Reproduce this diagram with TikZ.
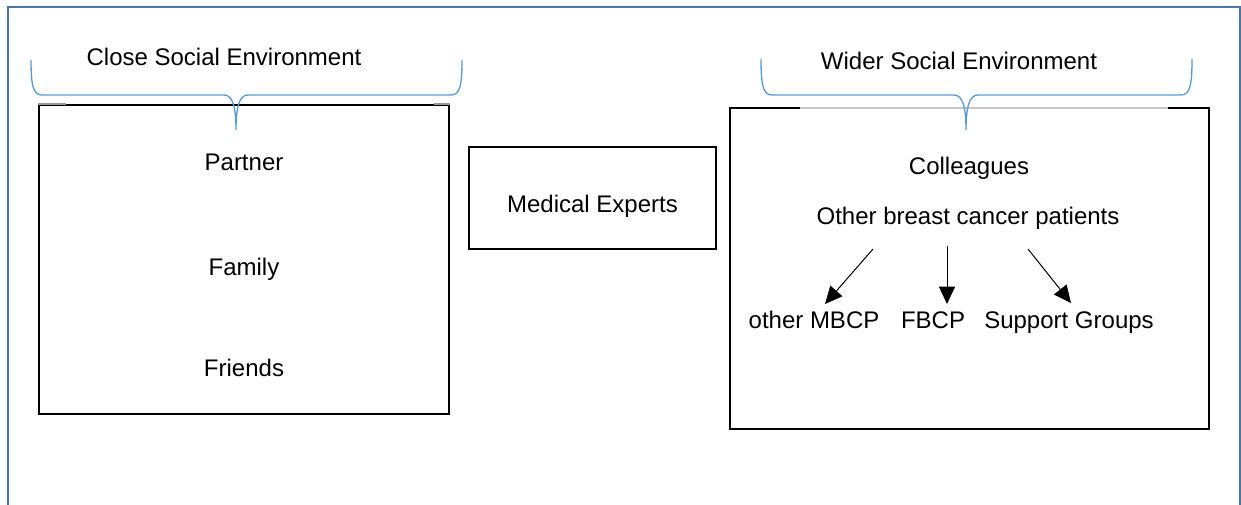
\documentclass[tikz,border=0pt]{standalone}
\usepackage{fontspec}
\setmainfont{Liberation Sans}
\usetikzlibrary{arrows.meta}
\definecolor{framecol}{HTML}{4A76A8}
\definecolor{bracecol}{HTML}{5B9BD5}
\tikzset{
  box/.style={draw=black, line width=1.5pt, inner sep=0pt},
  lbl/.style={font=\fontsize{18}{21}\selectfont, inner sep=2pt, text height=13pt, text depth=3.5pt},
  brace/.style={draw=bracecol, line width=1pt},
  arr/.style={draw=black, line width=0.75pt, -{Triangle[length=13pt,width=12pt]}},
}
\begin{document}
\begin{tikzpicture}[x=0.75pt,y=-0.75pt]
\useasboundingbox (0,0) rectangle (1241,505);
% outer frame (open at bottom)
\draw[framecol, line width=2pt] (8,505) -- (8,7) -- (1240,7) -- (1240,505);

% boxes
\node[box, minimum width=307.5pt, minimum height=231.75pt] (close) at (244,260) {};
\node[box, minimum width=185.25pt, minimum height=76.5pt] (med) at (592.5,198) {};
\node[box, minimum width=359.25pt, minimum height=240.75pt] (wide) at (969.5,268.5) {};
\draw[gray!45, line width=1.5pt] (800,108) -- (1168,108);
\draw[gray!80, line width=1pt] (38,104) -- (66,104) (434,104) -- (450,104);

% braces
\draw[brace] (31,60) .. controls (31,85) and (33,95) .. (42,95) -- (224,95)
  .. controls (232,95) and (236,105) .. (236,130)
  .. controls (236,105) and (240,95) .. (248,95) -- (451,95)
  .. controls (460,95) and (462,85) .. (462,60);
\draw[brace] (761,59) .. controls (761,85) and (763,95) .. (772,95) -- (954,95)
  .. controls (962,95) and (966,105) .. (966,130)
  .. controls (966,105) and (970,95) .. (978,95) -- (1181,95)
  .. controls (1190,95) and (1192,85) .. (1192,59);

% labels
\node[lbl] (closet) at (224,59) {Close Social Environment};
\node[lbl] (widet) at (959,63) {Wider Social Environment};
\node[lbl] (partner) at (244,164) {Partner};
\node[lbl] (family) at (244,269) {Family};
\node[lbl] (friends) at (244,370) {Friends};
\node[lbl] (medt) at (592.5,206) {Medical Experts};
\node[lbl] (coll) at (969,168) {Colleagues};
\node[lbl] (obcp) at (968,218) {Other breast cancer patients};
\node[lbl] (mbcp) at (814,322) {other MBCP};
\node[lbl] (fbcp) at (933,322) {FBCP};
\node[lbl] (sg) at (1069,322) {Support Groups};

% arrows (free ends as named coordinates)
\coordinate (a1s) at (873,249);
\coordinate (a2s) at (947,246);
\coordinate (a3s) at (1028,249);
\coordinate (a1e) at (825,304);
\coordinate (a2e) at (947,304);
\coordinate (a3e) at (1071,303);
\draw[arr] (a1s) -- (a1e);
\draw[arr] (a2s) -- (a2e);
\draw[arr] (a3s) -- (a3e);
\end{tikzpicture}
\end{document}
